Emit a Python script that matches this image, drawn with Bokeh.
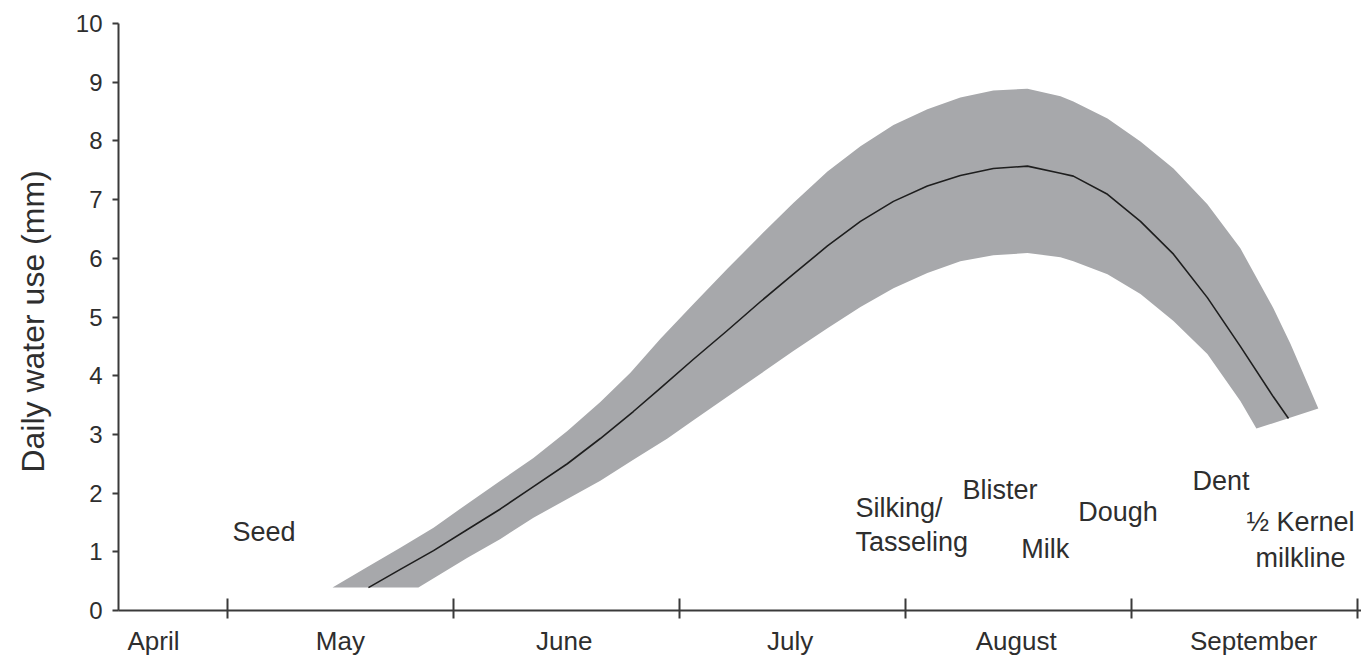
from bokeh.plotting import figure
from bokeh.models import FixedTicker, Range1d, ColumnDataSource
from bokeh.core.properties import value
from bokeh.embed import file_html
from bokeh.resources import INLINE

# x in months since 1 April (1 = 1 May, 2 = 1 June, ...)
month_bounds = [1, 2, 3, 4, 5, 6]
month_names = ["April", "May", "June", "July", "August", "September"]
month_label_pos = [0.673, 1.5, 2.49, 3.49, 4.49, 5.54]

y_ticks = [0, 1, 2, 3, 4, 5, 6, 7, 8, 9, 10]

# upper edge of the range of daily water use (mm)
upper_x = [1.465, 1.619, 1.765, 1.912, 2.062, 2.208, 2.354, 2.504, 2.650, 2.783,
           2.916, 3.062, 3.212, 3.358, 3.504, 3.655, 3.801, 3.947, 4.097, 4.243,
           4.389, 4.540, 4.686, 4.743, 4.894, 5.040, 5.186, 5.336, 5.482, 5.628,
           5.704, 5.827]
upper_y = [0.39, 0.74, 1.07, 1.41, 1.82, 2.21, 2.60, 3.06, 3.55, 4.05,
           4.63, 5.22, 5.82, 6.39, 6.94, 7.48, 7.91, 8.27, 8.54, 8.74,
           8.86, 8.89, 8.76, 8.67, 8.38, 7.99, 7.53, 6.92, 6.17, 5.15,
           4.54, 3.44]

# lower edge
lower_x = [1.845, 2.062, 2.208, 2.354, 2.504, 2.650, 2.796, 2.947, 3.062, 3.212,
           3.358, 3.504, 3.655, 3.801, 3.947, 4.097, 4.243, 4.389, 4.540, 4.686,
           4.743, 4.894, 5.040, 5.186, 5.336, 5.482, 5.553]
lower_y = [0.39, 0.90, 1.22, 1.58, 1.90, 2.21, 2.57, 2.93, 3.24, 3.64,
           4.03, 4.42, 4.81, 5.17, 5.49, 5.75, 5.95, 6.05, 6.09, 6.02,
           5.95, 5.73, 5.39, 4.93, 4.37, 3.57, 3.10]

# average daily water use
center_x = [1.624, 1.765, 1.912, 2.062, 2.208, 2.354, 2.504, 2.650, 2.796, 2.916,
            3.062, 3.212, 3.358, 3.504, 3.655, 3.801, 3.947, 4.097, 4.243, 4.389,
            4.540, 4.686, 4.743, 4.894, 5.040, 5.186, 5.336, 5.482, 5.628, 5.695]
center_y = [0.39, 0.70, 1.02, 1.38, 1.73, 2.11, 2.50, 2.93, 3.39, 3.79,
            4.28, 4.77, 5.26, 5.73, 6.21, 6.63, 6.97, 7.23, 7.41, 7.53,
            7.57, 7.45, 7.40, 7.09, 6.63, 6.07, 5.33, 4.50, 3.64, 3.27]

# growth stage annotations
stage_text = ["Seed", "Silking/", "Tasseling", "Blister", "Milk", "Dough", "Dent"]
stage_x = [1.022, 3.779, 3.779, 4.252, 4.513, 4.765, 5.270]
stage_y = [1.34, 1.75, 1.16, 2.06, 1.05, 1.67, 2.21]

kernel_text = ["\u00bd Kernel", "milkline"]
kernel_x = [5.748, 5.748]
kernel_y = [1.50, 0.90]

TEXT = "#2e2e2e"
AXIS = "#3a3a3a"
FONT = "Liberation Sans"

p = figure(width=1361, height=658, output_backend="svg", toolbar_location=None,
           x_range=Range1d(0.518, 6.018), y_range=Range1d(0, 10),
           min_border_left=118, min_border_right=0, min_border_top=23,
           min_border_bottom=48)
p.grid.visible = False
p.outline_line_color = None
p.background_fill_color = "white"

band_x = upper_x + lower_x[::-1]
band_y = upper_y + lower_y[::-1]
p.patch(band_x, band_y, fill_color="#a7a8ab", line_color=None)
p.line(center_x, center_y, line_color="#1e1e1e", line_width=1.6, line_join="round")

src = ColumnDataSource(dict(x=stage_x, y=stage_y, t=stage_text))
p.text(x="x", y="y", text="t", source=src, text_font=value(FONT),
       text_font_size="27px", text_color=TEXT, text_align="left",
       text_baseline="middle")
src2 = ColumnDataSource(dict(x=kernel_x, y=kernel_y, t=kernel_text))
p.text(x="x", y="y", text="t", source=src2, text_font=value(FONT),
       text_font_size="27px", text_color=TEXT, text_align="center",
       text_baseline="middle")

# x axis: month boundaries as minor ticks, month names between them
xa = p.xaxis[0]
xa.ticker = FixedTicker(ticks=month_label_pos, minor_ticks=month_bounds)
xa.major_label_overrides = {pos: name for pos, name in zip(month_label_pos, month_names)}
xa.major_tick_in = 0
xa.major_tick_out = 0
xa.minor_tick_in = 12
xa.minor_tick_out = 8
xa.minor_tick_line_width = 2
xa.minor_tick_line_color = AXIS
xa.axis_line_width = 2
xa.axis_line_color = AXIS
xa.major_label_text_font = FONT
xa.major_label_text_font_size = "26px"
xa.major_label_text_color = TEXT
xa.major_label_standoff = 7

ya = p.yaxis[0]
ya.ticker = FixedTicker(ticks=y_ticks)
ya.major_tick_in = 0
ya.major_tick_out = 6
ya.minor_tick_in = 0
ya.minor_tick_out = 0
ya.major_tick_line_width = 2
ya.major_tick_line_color = AXIS
ya.axis_line_width = 2
ya.axis_line_color = AXIS
ya.major_label_text_font = FONT
ya.major_label_text_font_size = "24px"
ya.major_label_text_color = TEXT
ya.major_label_standoff = 10
ya.axis_label = "Daily water use  (mm)"
ya.axis_label_text_font = FONT
ya.axis_label_text_font_style = "normal"
ya.axis_label_text_font_size = "32px"
ya.axis_label_text_color = TEXT
ya.axis_label_standoff = 22

open("out.html", "w").write(file_html(p, INLINE))
